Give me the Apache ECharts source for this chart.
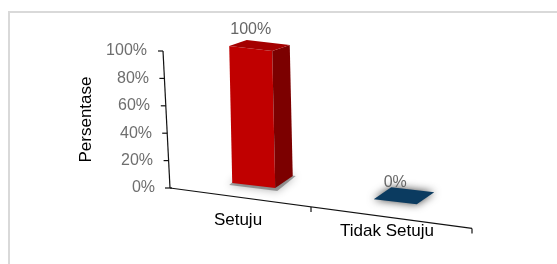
<!DOCTYPE html>
<html>
<head>
<meta charset="utf-8">
<script src="https://cdn.jsdelivr.net/npm/echarts@6/dist/echarts.min.js"></script>
<style>
html,body{margin:0;padding:0;background:#fff;}
#chart{width:557px;height:264px;}
</style>
</head>
<body>
<div id="chart"></div>
<script>
// ---- data ----
const categories = ['Setuju', 'Tidak Setuju'];
const values = [100, 0];
const yTicks = [0, 20, 40, 60, 80, 100];
const axisTitle = 'Persentase';

// ---- styles ----
const FONT = '"Liberation Sans", Arial, sans-serif';
const faceColors = [
  { front: '#c00000', side: '#7c0000', top: '#a40000' },
  { front: '#0b3b60', side: '#072840', top: '#0b3b60' }
];

const chart = echarts.init(document.getElementById('chart'), null, { renderer: 'canvas' });

// perspective helpers (pixel-space layout of the 3D look)
function axisWarp(gx, cs) {
  const a = 0.8676;
  const t = (gx - cs.x) / cs.width;
  return cs.x + t * cs.width * (a + (1 - a) * t);
}
function axisPoint(gx, h, cs) {
  const base = cs.y + cs.height;
  const X = axisWarp(gx, cs);
  return [X - 0.051 * h, base + (X - cs.x) * 0.134 - h];
}
function barPoint(gx, h, cs) {
  const base = cs.y + cs.height;
  const X0 = cs.x + 13 + (gx - cs.x) * 0.937;
  const Y0 = base - 12.2 + (X0 - cs.x) * 0.115;
  return [X0 - 0.022 * h, Y0 - h];
}
function add(p, d) { return [p[0] + d[0], p[1] + d[1]]; }

function renderBar(params, api) {
  const cs = params.coordSys;
  const i = api.value(0);
  const v = api.value(1);
  const c = api.coord([i, v]);
  const c0 = api.coord([i, 0]);
  const bw = api.size([1, 0])[0];
  const h = c0[1] - c[1];
  const half = bw * 0.152;
  const gl = c[0] - half, gr = c[0] + half;
  const BL = barPoint(gl, 0, cs), BR = barPoint(gr, 0, cs);
  const TL = barPoint(gl, h, cs), TR = barPoint(gr, h, cs);
  const d0 = [17.5, -12];
  const dh = [17.5, -12 + 6 * h / cs.height];
  const col = faceColors[params.dataIndex % faceColors.length];
  const children = [];
  const pts = a => a.map(p => [p[0], p[1]]);
  if (h > 1) {
    children.push({
      type: 'polygon',
      shape: { points: pts([add(BL, [-3, 2]), add(BR, [2, 3]), add(add(BR, d0), [3, 0]), add(add(BL, d0), [-3, -1])]) },
      style: { fill: 'rgba(90,90,90,0.55)', shadowBlur: 9, shadowColor: 'rgba(0,0,0,0.55)' }
    });
    children.push({ type: 'polygon', shape: { points: pts([BL, BR, TR, TL]) }, style: { fill: col.front } });
    children.push({ type: 'polygon', shape: { points: pts([BR, add(BR, d0), add(TR, dh), TR]) }, style: { fill: col.side } });
    children.push({ type: 'polygon', shape: { points: pts([TL, TR, add(TR, dh), add(TL, dh)]) }, style: { fill: col.top } });
  } else {
    children.push({
      type: 'polygon',
      shape: { points: pts([TL, TR, add(TR, dh), add(TL, dh)]) },
      style: { fill: col.top, shadowBlur: 9, shadowColor: 'rgba(0,0,0,0.75)' }
    });
  }
  const labelPos = [(TL[0] + TR[0]) / 2, (TL[1] + TR[1]) / 2 - 19];
  children.push({
    type: 'text',
    style: {
      x: labelPos[0], y: labelPos[1],
      text: v + '%', align: 'center', verticalAlign: 'middle',
      fill: '#666666', font: '16px ' + FONT
    },
    z2: 10
  });
  return { type: 'group', children: children };
}

function renderFrame(params, api) {
  const cs = params.coordSys;
  const base = cs.y + cs.height;
  const v = api.value(1);
  const h = base - api.coord([0, v])[1];
  const stroke = { stroke: '#111', lineWidth: 1.2 };
  const children = [];
  const p = axisPoint(cs.x, h, cs);
  children.push({ type: 'line', shape: { x1: p[0] - 5, y1: p[1], x2: p[0] + (v === 0 ? 2 : 0), y2: p[1] }, style: stroke });
  if (params.dataIndex === 0) {
    const top = axisPoint(cs.x, cs.height, cs);
    const o = axisPoint(cs.x, 0, cs);
    const end = axisPoint(cs.x + cs.width, 0, cs);
    children.push({ type: 'line', shape: { x1: o[0], y1: o[1], x2: top[0], y2: top[1] }, style: stroke });
    children.push({ type: 'line', shape: { x1: o[0], y1: o[1], x2: end[0], y2: end[1] }, style: stroke });
    const bw = cs.width / categories.length;
    for (let k = 1; k <= categories.length; k++) {
      const q = axisPoint(cs.x + k * bw, 0, cs);
      children.push({ type: 'line', shape: { x1: q[0], y1: q[1], x2: q[0], y2: q[1] + 5 }, style: stroke });
    }
  }
  return { type: 'group', children: children };
}

const yRich = {};
yTicks.forEach(t => {
  yRich['p' + t] = {
    padding: [0, Math.round(t * 0.081), 0, 0],
    fontSize: 16, fontFamily: FONT, color: '#6e6e6e'
  };
});
const xShift = [[0, 15, 0, 0], [23, 19, 0, 0]];
const xRich = {};
categories.forEach((c, i) => {
  xRich['c' + i] = {
    padding: xShift[i] || [0, 0, 0, 0],
    fontSize: 17, fontFamily: FONT, color: '#000', lineHeight: 18
  };
});

const option = {
  animation: false,
  backgroundColor: '#fff',
  grid: { left: 170, top: 51, width: 302, height: 137, containLabel: false, outerBoundsMode: 'none' },
  xAxis: {
    type: 'category',
    data: categories,
    axisLine: { show: false },
    axisTick: { show: false },
    splitLine: { show: false },
    axisLabel: {
      margin: 23,
      interval: 0,
      formatter: (val, idx) => '{c' + idx + '|' + val + '}',
      rich: xRich
    }
  },
  yAxis: {
    type: 'value',
    min: 0,
    max: 100,
    interval: 20,
    name: axisTitle,
    nameLocation: 'middle',
    nameRotate: 90,
    nameGap: 67,
    nameTextStyle: { fontSize: 17, fontFamily: FONT, color: '#000' },
    axisLine: { show: false },
    axisTick: { show: false },
    splitLine: { show: false },
    axisLabel: {
      margin: 15,
      formatter: v => '{p' + v + '|' + v + '%}',
      rich: yRich
    }
  },
  graphic: [{
    type: 'rect', z: -10, silent: true,
    shape: { x: 9, y: 12, width: 620, height: 320 },
    style: { fill: 'none', stroke: '#d9d9d9', lineWidth: 2 }
  }],
  series: [
    {
      type: 'custom',
      name: 'frame',
      clip: false,
      renderItem: renderFrame,
      data: yTicks.map(t => [0, t]),
      z: 1
    },
    {
      type: 'custom',
      name: 'Persentase',
      clip: false,
      renderItem: renderBar,
      data: values.map((v, i) => [i, v]),
      z: 2
    }
  ]
};
chart.setOption(option);
</script>
</body>
</html>
